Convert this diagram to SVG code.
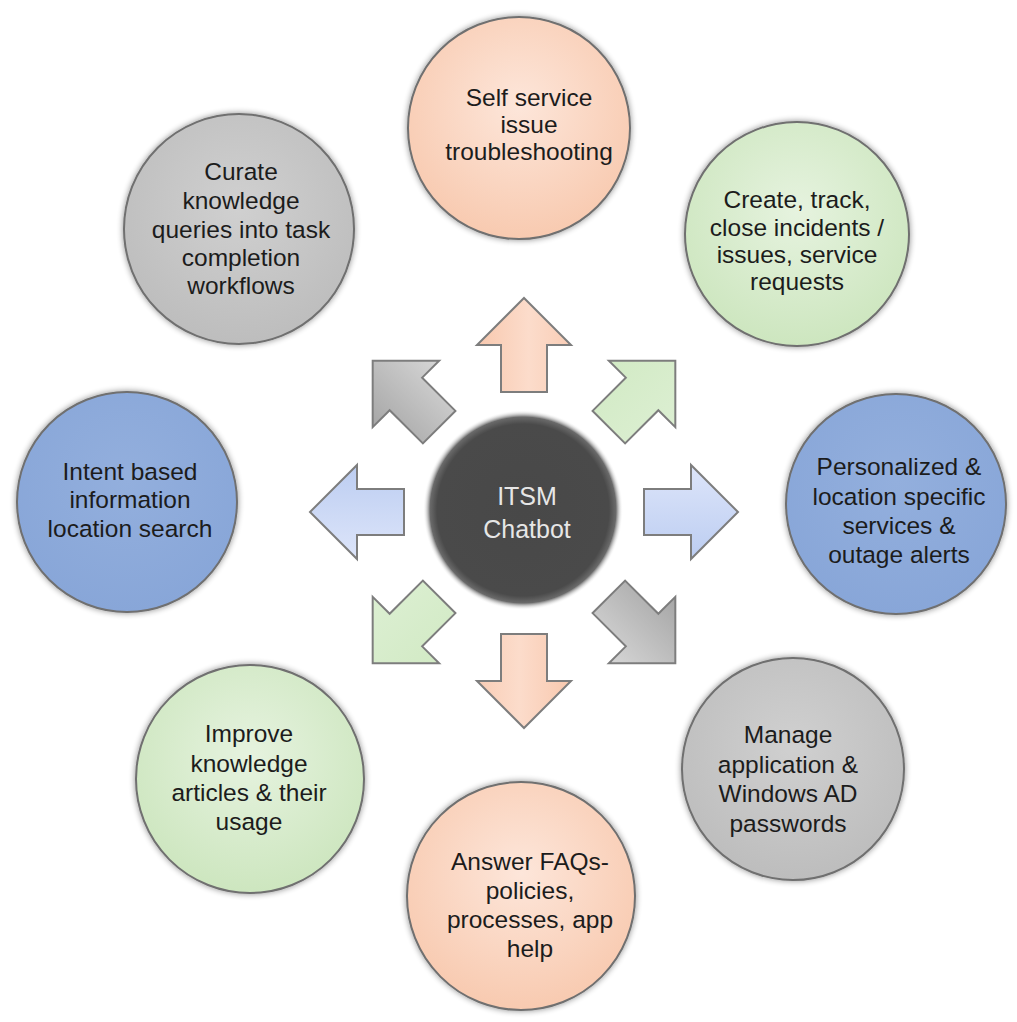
<svg xmlns="http://www.w3.org/2000/svg" width="1017" height="1022" viewBox="0 0 1017 1022">
  <defs>
    <filter id="shadow" x="-20%" y="-20%" width="140%" height="140%">
      <feGaussianBlur in="SourceAlpha" stdDeviation="3"/>
      <feComponentTransfer><feFuncA type="linear" slope="0.45"/></feComponentTransfer>
      <feMerge><feMergeNode/><feMergeNode in="SourceGraphic"/></feMerge>
    </filter>
    <radialGradient id="gPeach" cx="50%" cy="40%" r="60%">
      <stop offset="0" stop-color="#fde6da"/>
      <stop offset="1" stop-color="#f8cab0"/>
    </radialGradient>
    <radialGradient id="gGreen" cx="50%" cy="40%" r="60%">
      <stop offset="0" stop-color="#e6f3df"/>
      <stop offset="1" stop-color="#cde6bf"/>
    </radialGradient>
    <radialGradient id="gBlue" cx="50%" cy="40%" r="60%">
      <stop offset="0" stop-color="#93afdd"/>
      <stop offset="1" stop-color="#88a6d8"/>
    </radialGradient>
    <radialGradient id="gGray" cx="50%" cy="40%" r="60%">
      <stop offset="0" stop-color="#d0d0d0"/>
      <stop offset="1" stop-color="#bdbdbd"/>
    </radialGradient>
    <radialGradient id="gDark" cx="50%" cy="50%" r="50%">
      <stop offset="0" stop-color="#484848"/>
      <stop offset="0.86" stop-color="#4a4a4a"/>
      <stop offset="0.93" stop-color="#6a6a6a"/>
      <stop offset="1" stop-color="#ffffff" stop-opacity="0"/>
    </radialGradient>
    <linearGradient id="aPeach" x1="0" y1="0" x2="0" y2="1">
      <stop offset="0" stop-color="#f8c8ae"/>
      <stop offset="0.55" stop-color="#fcdccb"/>
      <stop offset="1" stop-color="#f9cdb6"/>
    </linearGradient>
    <linearGradient id="aBlue" x1="0" y1="0" x2="0" y2="1">
      <stop offset="0" stop-color="#dde5fa"/>
      <stop offset="1" stop-color="#bccdf1"/>
    </linearGradient>
    <linearGradient id="aGreen" x1="0" y1="0" x2="0" y2="1">
      <stop offset="0" stop-color="#d2eac5"/>
      <stop offset="1" stop-color="#dcefd2"/>
    </linearGradient>
    <linearGradient id="aGray" x1="0" y1="0" x2="0" y2="1">
      <stop offset="0" stop-color="#a6a6a6"/>
      <stop offset="1" stop-color="#d6d6d6"/>
    </linearGradient>
    <polygon id="arrow" points="120,-23 167,-23 167,-47 214,0 167,47 167,23 120,23"/>
  </defs>
  <style>
    .node { stroke: #6f6f6f; stroke-width: 2; filter: url(#shadow); }
    .lbl { font-family: "Liberation Sans", Arial, sans-serif; font-size: 24.5px; fill: #1c1c1c; text-anchor: middle; }
    .ctr { font-family: "Liberation Sans", Arial, sans-serif; font-size: 25px; fill: #e6e6e6; text-anchor: middle; }
    .arr { stroke: #7d7d7d; stroke-width: 2; stroke-linejoin: miter; }
  </style>
  <rect width="1017" height="1022" fill="#ffffff"/>

  <g id="connectors">
    <use href="#arrow" class="arr" fill="url(#aBlue)" transform="translate(524,512)"/>
    <use href="#arrow" class="arr" fill="url(#aGray)" transform="translate(524,512) rotate(45)"/>
    <use href="#arrow" class="arr" fill="url(#aPeach)" transform="translate(524,514) rotate(90)"/>
    <use href="#arrow" class="arr" fill="url(#aGreen)" transform="translate(524,512) rotate(135)"/>
    <use href="#arrow" class="arr" fill="url(#aBlue)" transform="translate(524,512) rotate(180)"/>
    <use href="#arrow" class="arr" fill="url(#aGray)" transform="translate(524,512) rotate(225)"/>
    <use href="#arrow" class="arr" fill="url(#aPeach)" transform="translate(524,512) rotate(270)"/>
    <use href="#arrow" class="arr" fill="url(#aGreen)" transform="translate(524,512) rotate(315)"/>
  </g>

  <g id="center">
    <circle cx="523" cy="510" r="100" fill="url(#gDark)"/>
    <text class="ctr" x="527" y="505">ITSM</text>
    <text class="ctr" x="527" y="538">Chatbot</text>
  </g>

  <g id="n-top">
    <circle class="node" cx="519" cy="128" r="111" fill="url(#gPeach)"/>
    <text class="lbl" x="529" y="106">Self service</text>
    <text class="lbl" x="529" y="133">issue</text>
    <text class="lbl" x="529" y="160">troubleshooting</text>
  </g>

  <g id="n-topright">
    <circle class="node" cx="797" cy="234" r="112" fill="url(#gGreen)"/>
    <text class="lbl" x="797" y="208">Create, track,</text>
    <text class="lbl" x="797" y="236">close incidents /</text>
    <text class="lbl" x="797" y="263">issues, service</text>
    <text class="lbl" x="797" y="290">requests</text>
  </g>

  <g id="n-right">
    <circle class="node" cx="896" cy="504" r="110" fill="url(#gBlue)"/>
    <text class="lbl" x="899" y="475">Personalized &amp;</text>
    <text class="lbl" x="899" y="505">location specific</text>
    <text class="lbl" x="899" y="534">services &amp;</text>
    <text class="lbl" x="899" y="563">outage alerts</text>
  </g>

  <g id="n-bottomright">
    <circle class="node" cx="793" cy="769" r="111" fill="url(#gGray)"/>
    <text class="lbl" x="788" y="743">Manage</text>
    <text class="lbl" x="788" y="773">application &amp;</text>
    <text class="lbl" x="788" y="802">Windows AD</text>
    <text class="lbl" x="788" y="832">passwords</text>
  </g>

  <g id="n-bottom">
    <circle class="node" cx="521" cy="896" r="114" fill="url(#gPeach)"/>
    <text class="lbl" x="530" y="870">Answer FAQs-</text>
    <text class="lbl" x="530" y="899">policies,</text>
    <text class="lbl" x="530" y="928">processes, app</text>
    <text class="lbl" x="530" y="957">help</text>
  </g>

  <g id="n-bottomleft">
    <circle class="node" cx="250" cy="779" r="114" fill="url(#gGreen)"/>
    <text class="lbl" x="249" y="742">Improve</text>
    <text class="lbl" x="249" y="772">knowledge</text>
    <text class="lbl" x="249" y="801">articles &amp; their</text>
    <text class="lbl" x="249" y="830">usage</text>
  </g>

  <g id="n-left">
    <circle class="node" cx="127" cy="502" r="110" fill="url(#gBlue)"/>
    <text class="lbl" x="130" y="480">Intent based</text>
    <text class="lbl" x="130" y="508">information</text>
    <text class="lbl" x="130" y="537">location search</text>
  </g>

  <g id="n-topleft">
    <circle class="node" cx="239" cy="229" r="115" fill="url(#gGray)"/>
    <text class="lbl" x="241" y="180">Curate</text>
    <text class="lbl" x="241" y="209">knowledge</text>
    <text class="lbl" x="241" y="238">queries into task</text>
    <text class="lbl" x="241" y="266">completion</text>
    <text class="lbl" x="241" y="294">workflows</text>
  </g>
</svg>
